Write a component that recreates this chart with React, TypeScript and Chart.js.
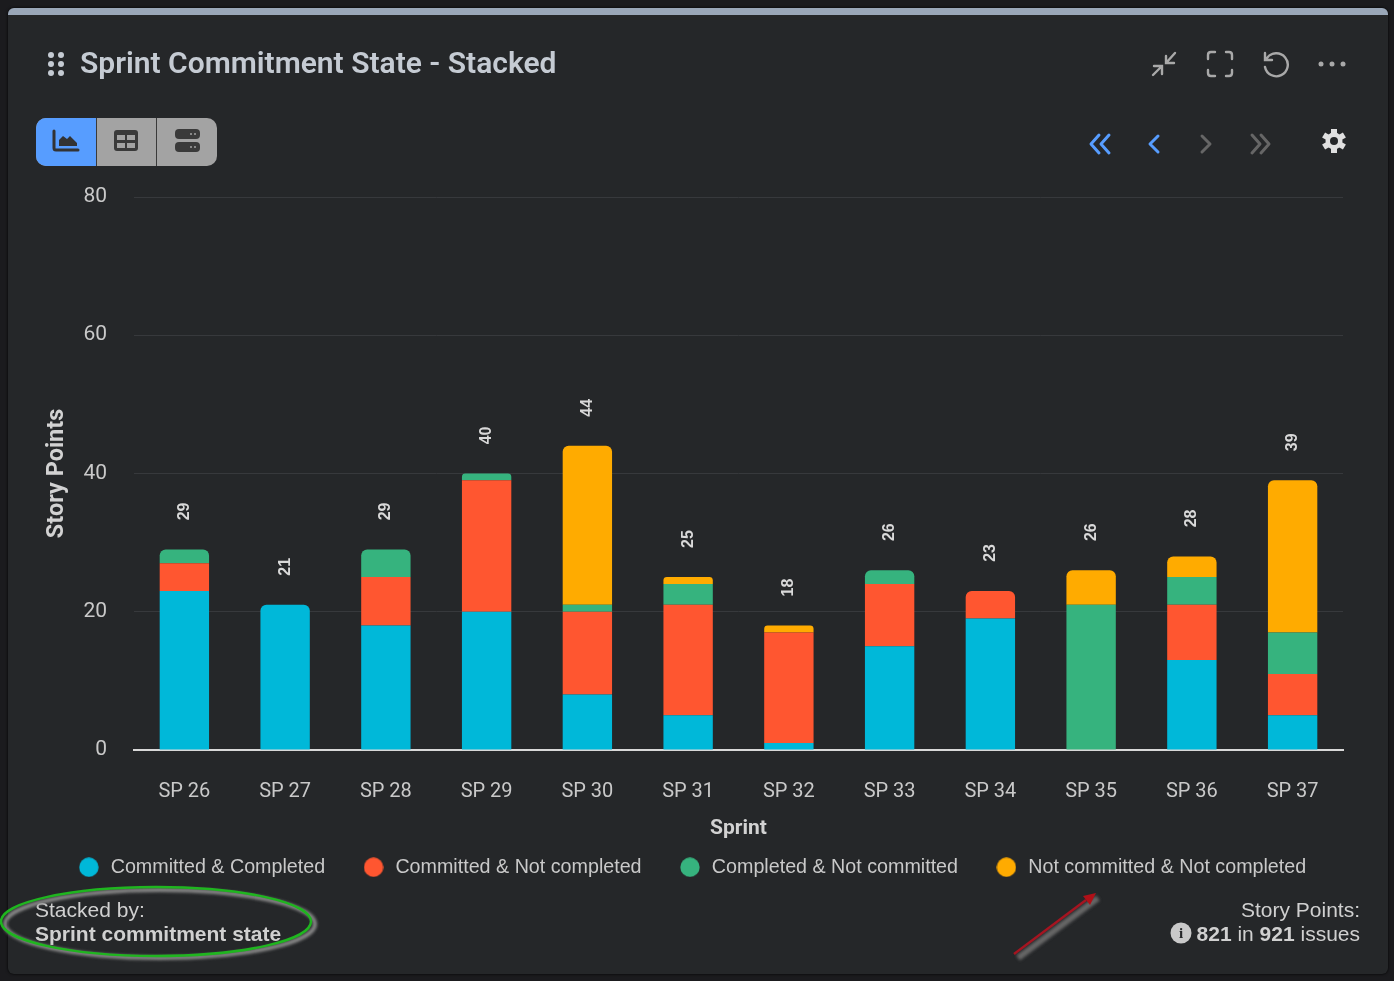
import React, { useEffect, useRef } from "react";
import { Chart, registerables } from "chart.js";

Chart.register(...registerables);

const sprints = ["SP 26", "SP 27", "SP 28", "SP 29", "SP 30", "SP 31", "SP 32", "SP 33", "SP 34", "SP 35", "SP 36", "SP 37"];
const committedCompleted = [23, 21, 18, 20, 8, 5, 1, 15, 19, 0, 13, 5];
const committedNotCompleted = [4, 0, 7, 19, 12, 16, 16, 9, 4, 0, 8, 6];
const completedNotCommitted = [2, 0, 4, 1, 1, 3, 0, 2, 0, 21, 4, 6];
const notCommittedNotCompleted = [0, 0, 0, 0, 23, 1, 1, 0, 0, 5, 3, 22];
const seriesNames = ["Committed & Completed", "Committed & Not completed", "Completed & Not committed", "Not committed & Not completed"];
const seriesColors = ["#00b8d9", "#ff5630", "#36b37e", "#ffab00"];
const seriesValues = [committedCompleted, committedNotCompleted, completedNotCommitted, notCommittedNotCompleted];

const sans = "'Liberation Sans', Arial, sans-serif";
const cardBg = "#252729";

function dot(color: string) {
  const c = document.createElement("canvas");
  c.width = 20;
  c.height = 20;
  const g = c.getContext("2d")!;
  g.fillStyle = color;
  g.beginPath();
  g.arc(10, 10, 9.7, 0, Math.PI * 2);
  g.fill();
  return c;
}

const totalsPlugin = {
  id: "totals",
  afterLayout(chart: any) {
    chart.legend.top = 821;
    chart.legend.bottom = 821 + chart.legend.height;
  },
  afterDatasetsDraw(chart: any) {
    const { ctx, scales } = chart;
    ctx.save();
    ctx.fillStyle = "#d9d9d9";
    ctx.font = `bold 16px ${sans}`;
    ctx.textAlign = "center";
    ctx.textBaseline = "middle";
    sprints.forEach((_, i) => {
      const total = seriesValues.reduce((a, s) => a + s[i], 0);
      const x = scales.x.getPixelForValue(i);
      const y = scales.y.getPixelForValue(total) - 38;
      ctx.save();
      ctx.translate(x, y);
      ctx.rotate(-Math.PI / 2);
      ctx.fillText(String(total), 0, 0);
      ctx.restore();
    });
    ctx.restore();
  },
};

export default function App() {
  const ref = useRef<HTMLCanvasElement>(null);
  useEffect(() => {
    const dots = seriesColors.map(dot);
    const chart = new Chart(ref.current!, {
      type: "bar",
      data: {
        labels: sprints,
        datasets: seriesValues.map((values, d) => ({
          label: seriesNames[d],
          data: values,
          backgroundColor: seriesColors[d],
          borderWidth: 0,
          borderSkipped: false,
          barPercentage: 0.98,
          categoryPercentage: 0.5,
          borderRadius: (c: any) => {
            const i = c.dataIndex;
            let top = -1;
            seriesValues.forEach((s, k) => { if (s[i] > 0) top = k; });
            return top === d ? { topLeft: 6, topRight: 6, bottomLeft: 0, bottomRight: 0 } : 0;
          },
        })),
      },
      options: {
        animation: false,
        responsive: false,
        layout: { padding: { left: 40, right: 51, top: 197, bottom: 0 } },
        plugins: {
          tooltip: { enabled: false },
          legend: {
            position: "bottom",
            labels: {
              usePointStyle: true,
              pointStyleWidth: 24,
              boxHeight: 14,
              padding: 36.4,
              color: "#c9c9c9",
              font: { family: sans, size: 19.7 },
              generateLabels: (c: any) =>
                (Chart.defaults.plugins.legend.labels as any).generateLabels(c).map((l: any, i: number) => ({ ...l, pointStyle: dots[i] })),
            },
          },
        },
        scales: {
          x: {
            stacked: true,
            grid: { display: false, drawTicks: false },
            border: { color: "#d8d8d8", width: 2 },
            ticks: { color: "#c9c9c9", padding: 30, font: { family: "Roboto", size: 20 } },
            title: { display: true, text: "Sprint", color: "#d2d2d2", padding: { top: 10, bottom: 74 }, font: { family: "Roboto", weight: "bold", size: 21 } },
            afterFit: (s: any) => { s.height = 165; },
          },
          y: {
            stacked: true,
            min: 0,
            max: 80,
            grid: { color: "#37393c", drawTicks: false },
            border: { display: false },
            ticks: { stepSize: 20, color: "#c9c9c9", padding: 27, font: { family: "Roboto", size: 21 } },
            title: { display: true, text: "Story Points", color: "#d2d2d2", padding: { top: 3, bottom: 6 }, font: { family: "Roboto", weight: "bold", size: 23.5 } },
            afterFit: (s: any) => { s.width = 94; },
          },
        },
      } as any,
      plugins: [totalsPlugin as any],
    });
    return () => chart.destroy();
  }, []);

  const text = (left: number, top: number, s: React.ReactNode, extra: React.CSSProperties = {}) => (
    <div style={{ position: "absolute", left, top, whiteSpace: "nowrap", fontFamily: sans, fontSize: 21, lineHeight: "24px", color: "#d0d0d0", ...extra }}>{s}</div>
  );

  return (
    <div style={{ position: "fixed", inset: 0, width: 1394, height: 981, background: "#1b1b1e", overflow: "hidden" }}>
      <div style={{ position: "absolute", left: 8, top: 8, width: 1380, height: 966, borderRadius: 6, background: cardBg, overflow: "hidden", boxShadow: "0 0 3px #000" }}>
        <div style={{ height: 7, background: "#9aa7b8" }} />
      </div>
      <canvas ref={ref} width={1394} height={981} style={{ position: "absolute", left: 0, top: 0, width: 1394, height: 981 }} />

      {text(80, 45, "Sprint Commitment State - Stacked", { fontFamily: "Roboto", fontWeight: 600, fontSize: 30, lineHeight: "36px", color: "#c5cbd3" })}
      {text(35, 898, "Stacked by:")}
      {text(35, 922, "Sprint commitment state", { fontWeight: 700 })}
      {text(0, 898, "Story Points:", { left: "auto", right: 34 })}
      {text(0, 922, <><b>821</b> in <b>921</b> issues</>, { left: "auto", right: 34 })}

      <div style={{ position: "absolute", left: 36, top: 118, width: 181, height: 48, borderRadius: 10, overflow: "hidden", background: "#a3a3a3" }}>
        <div style={{ position: "absolute", left: 0, top: 0, width: 60, height: 48, background: "#579dff" }} />
        <div style={{ position: "absolute", left: 60, top: 0, width: 1, height: 48, background: "#3a3a3a" }} />
        <div style={{ position: "absolute", left: 120, top: 0, width: 1, height: 48, background: "#3a3a3a" }} />
      </div>

      <svg width={1394} height={981} style={{ position: "absolute", left: 0, top: 0 }}>
        <defs>
          <filter id="blur"><feGaussianBlur stdDeviation="1.5" /></filter>
        </defs>
        {[[51, 55], [61, 55], [51, 64], [61, 64], [51, 73], [61, 73]].map(([x, y], i) => (
          <circle key={i} cx={x} cy={y} r={3} fill="#c5cbd3" />
        ))}
        <path d="M54 131 V148 Q54 150 56 150 H78" fill="none" stroke="#333" strokeWidth={3} strokeLinecap="round" />
        <path d="M59 146 V140 L63 136 L67 139 L70 136 L77 143 V146 Z" fill="#333" />
        <rect x={114} y={130} width={24} height={21} rx={3} fill="#3a3a3a" />
        <rect x={117} y={135} width={8} height={5} fill="#a3a3a3" />
        <rect x={127} y={135} width={8} height={5} fill="#a3a3a3" />
        <rect x={117} y={143} width={8} height={5} fill="#a3a3a3" />
        <rect x={127} y={143} width={8} height={5} fill="#a3a3a3" />
        <rect x={175} y={129} width={25} height={10} rx={4} fill="#3a3a3a" />
        <rect x={175} y={142} width={25} height={10} rx={4} fill="#3a3a3a" />
        <circle cx={191} cy={134} r={1} fill="#a3a3a3" /><circle cx={195} cy={134} r={1} fill="#a3a3a3" />
        <circle cx={191} cy={147} r={1} fill="#a3a3a3" /><circle cx={195} cy={147} r={1} fill="#a3a3a3" />
        <g fill="none" stroke="#a9a9a9" strokeWidth={2.4} strokeLinecap="round">
          <path d="M1166 63 L1175 53 M1166 56 V63 H1174" />
          <path d="M1153 75 L1162 66 M1154 66 H1162 V74" />
          <path d="M1208 59 V55 Q1208 52 1211 52 H1215 M1226 52 H1229 Q1232 52 1232 55 V59 M1232 70 V73 Q1232 76 1229 76 H1226 M1215 76 H1211 Q1208 76 1208 73 V70" />
          <path d="M1267 58 A11.5 11.5 0 1 1 1265 67 M1265 53 V60 H1272" />
        </g>
        <circle cx={1321} cy={64} r={2.5} fill="#a9a9a9" /><circle cx={1332} cy={64} r={2.5} fill="#a9a9a9" /><circle cx={1343} cy={64} r={2.5} fill="#a9a9a9" />
        <g fill="none" strokeWidth={3} strokeLinecap="round" strokeLinejoin="round">
          <path d="M1099 135 L1091 144 L1099 153 M1109 135 L1101 144 L1109 153" stroke="#579dff" />
          <path d="M1158 136 L1150 144 L1158 152" stroke="#579dff" />
          <path d="M1202 136 L1210 144 L1202 152" stroke="#666" />
          <path d="M1252 135 L1260 144 L1252 153 M1261 135 L1269 144 L1261 153" stroke="#666" />
        </g>
        <circle cx={1334} cy={141} r={8.5} fill="#e0e0e0" />
        <g stroke="#e0e0e0" strokeWidth={6}>
          <path d="M1334 129 V153 M1323.6 135 L1344.4 147 M1323.6 147 L1344.4 135" />
        </g>
        <circle cx={1334} cy={141} r={4} fill={cardBg} />
        <circle cx={1181} cy={933} r={10.5} fill="#c9c9c9" />
        <text x={1181} y={938} textAnchor="middle" fontFamily="'Liberation Serif', serif" fontWeight={700} fontSize={15} fill={cardBg}>i</text>
        <ellipse cx={160} cy={924} rx={155} ry={34} fill="none" stroke="#8a8a8a" strokeWidth={4} filter="url(#blur)" />
        <ellipse cx={156} cy={921.5} rx={155} ry={34.5} fill="none" stroke="#1fb51f" strokeWidth={2.5} />
        <path d="M1018 958 L1098 898" stroke="#666" strokeWidth={6} filter="url(#blur)" />
        <path d="M1014 954 L1086 900" stroke="#a51420" strokeWidth={2.5} />
        <path d="M1096 893 L1083 896 L1090 905 Z" fill="#b01018" />
      </svg>
    </div>
  );
}
